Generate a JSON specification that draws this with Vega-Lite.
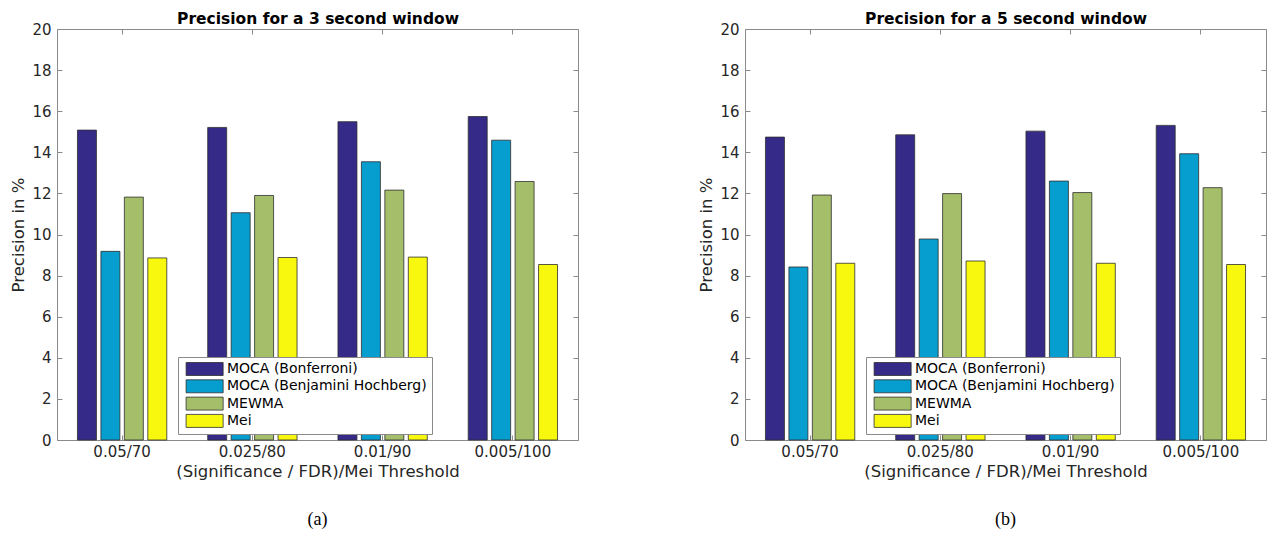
{
  "$schema": "https://vega.github.io/schema/vega-lite/v6.json",
  "background": "white",
  "padding": {"left": 10, "top": 11, "right": 0, "bottom": 0},
  "spacing": 119,
  "config": {
    "font": "DejaVu Sans",
    "view": {"stroke": null},
    "axis": {
      "domainColor": "#8a8a8a",
      "tickColor": "#8a8a8a",
      "grid": false,
      "labelColor": "#262626",
      "titleColor": "#262626",
      "labelFont": "DejaVu Sans",
      "titleFont": "DejaVu Sans",
      "labelFontSize": 15,
      "titleFontSize": 16.5,
      "titleFontWeight": "normal",
      "tickSize": -5
    },
    "legend": {
      "orient": "none",
      "legendX": 121,
      "legendY": 328,
      "fillColor": "white",
      "strokeColor": "#8a8a8a",
      "padding": 5,
      "labelFont": "DejaVu Sans",
      "labelFontSize": 14,
      "labelColor": "black",
      "labelLimit": 400,
      "labelOffset": 30,
      "rowPadding": -0.7,
      "symbolType": "M-0.6,-1H5.1V1H-0.6Z",
      "symbolSize": 169,
      "symbolStrokeColor": "#2e2e2e",
      "symbolStrokeWidth": 0.8,
      "symbolOpacity": 1,
      "title": null
    },
    "title": {"font": "Liberation Serif", "fontSize": 18, "fontWeight": "normal", "color": "black", "orient": "bottom", "offset": 31}
  },
  "resolve": {"scale": {"color": "independent"}},
  "datasets": {
    "d": [
      {"panel": "a", "threshold": "0.05/70", "method": "MOCA (Bonferroni)", "value": 15.08},
      {"panel": "a", "threshold": "0.05/70", "method": "MOCA (Benjamini Hochberg)", "value": 9.18},
      {"panel": "a", "threshold": "0.05/70", "method": "MEWMA", "value": 11.82},
      {"panel": "a", "threshold": "0.05/70", "method": "Mei", "value": 8.86},
      {"panel": "a", "threshold": "0.025/80", "method": "MOCA (Bonferroni)", "value": 15.21},
      {"panel": "a", "threshold": "0.025/80", "method": "MOCA (Benjamini Hochberg)", "value": 11.06},
      {"panel": "a", "threshold": "0.025/80", "method": "MEWMA", "value": 11.9},
      {"panel": "a", "threshold": "0.025/80", "method": "Mei", "value": 8.88},
      {"panel": "a", "threshold": "0.01/90", "method": "MOCA (Bonferroni)", "value": 15.49},
      {"panel": "a", "threshold": "0.01/90", "method": "MOCA (Benjamini Hochberg)", "value": 13.54},
      {"panel": "a", "threshold": "0.01/90", "method": "MEWMA", "value": 12.16},
      {"panel": "a", "threshold": "0.01/90", "method": "Mei", "value": 8.9},
      {"panel": "a", "threshold": "0.005/100", "method": "MOCA (Bonferroni)", "value": 15.74},
      {"panel": "a", "threshold": "0.005/100", "method": "MOCA (Benjamini Hochberg)", "value": 14.59},
      {"panel": "a", "threshold": "0.005/100", "method": "MEWMA", "value": 12.58},
      {"panel": "a", "threshold": "0.005/100", "method": "Mei", "value": 8.54},
      {"panel": "b", "threshold": "0.05/70", "method": "MOCA (Bonferroni)", "value": 14.74},
      {"panel": "b", "threshold": "0.05/70", "method": "MOCA (Benjamini Hochberg)", "value": 8.42},
      {"panel": "b", "threshold": "0.05/70", "method": "MEWMA", "value": 11.92},
      {"panel": "b", "threshold": "0.05/70", "method": "Mei", "value": 8.6},
      {"panel": "b", "threshold": "0.025/80", "method": "MOCA (Bonferroni)", "value": 14.85},
      {"panel": "b", "threshold": "0.025/80", "method": "MOCA (Benjamini Hochberg)", "value": 9.78},
      {"panel": "b", "threshold": "0.025/80", "method": "MEWMA", "value": 11.99},
      {"panel": "b", "threshold": "0.025/80", "method": "Mei", "value": 8.71},
      {"panel": "b", "threshold": "0.01/90", "method": "MOCA (Bonferroni)", "value": 15.03},
      {"panel": "b", "threshold": "0.01/90", "method": "MOCA (Benjamini Hochberg)", "value": 12.6},
      {"panel": "b", "threshold": "0.01/90", "method": "MEWMA", "value": 12.04},
      {"panel": "b", "threshold": "0.01/90", "method": "Mei", "value": 8.6},
      {"panel": "b", "threshold": "0.005/100", "method": "MOCA (Bonferroni)", "value": 15.31},
      {"panel": "b", "threshold": "0.005/100", "method": "MOCA (Benjamini Hochberg)", "value": 13.93},
      {"panel": "b", "threshold": "0.005/100", "method": "MEWMA", "value": 12.28},
      {"panel": "b", "threshold": "0.005/100", "method": "Mei", "value": 8.54}
    ]
  },
  "hconcat": [
    {
      "width": 521,
      "height": 411,
      "title": {"text": "(a)"},
      "data": {"name": "d"},
      "transform": [{"filter": "datum.panel == 'a'"}],
      "resolve": {"axis": {"x": "independent", "y": "independent"}},
      "layer": [
        {
          "mark": {"type": "bar", "stroke": "#2e2e2e", "strokeWidth": 0.8},
          "encoding": {
            "x": {"field": "threshold", "type": "nominal", "sort": ["0.05/70", "0.025/80", "0.01/90", "0.005/100"], "scale": {"paddingInner": 0.28, "paddingOuter": 0.14}, "axis": {"orient": "bottom", "labelAngle": 0, "title": "(Significance / FDR)/Mei Threshold", "labelPadding": 9, "titlePadding": 4}},
            "xOffset": {"field": "method", "sort": ["MOCA (Bonferroni)", "MOCA (Benjamini Hochberg)", "MEWMA", "Mei"], "scale": {"paddingInner": 0.19, "paddingOuter": 0.095}},
            "y": {"field": "value", "type": "quantitative", "scale": {"domain": [0, 20], "nice": false}, "axis": {"orient": "left", "values": [0, 2, 4, 6, 8, 10, 12, 14, 16, 18, 20], "title": "Precision in %", "labelPadding": 11, "titlePadding": 5}},
            "color": {"field": "method", "type": "nominal", "scale": {"domain": ["MOCA (Bonferroni)", "MOCA (Benjamini Hochberg)", "MEWMA", "Mei"], "range": ["#352a87", "#069dcf", "#a5be69", "#f8f80e"]}}
          }
        },
        {
          "mark": {"type": "bar", "opacity": 0},
          "encoding": {
            "x": {"field": "threshold", "type": "nominal", "sort": ["0.05/70", "0.025/80", "0.01/90", "0.005/100"], "axis": {"orient": "top", "labels": false, "title": "Precision for a 3 second window", "titleFontWeight": "bold", "titleFontSize": 15.5, "titleColor": "black", "titlePadding": 2}},
            "xOffset": {"field": "method", "sort": ["MOCA (Bonferroni)", "MOCA (Benjamini Hochberg)", "MEWMA", "Mei"]},
            "y": {"field": "value", "type": "quantitative", "axis": {"orient": "right", "labels": false, "title": null, "values": [0, 2, 4, 6, 8, 10, 12, 14, 16, 18, 20]}}
          }
        }
      ]
    },
    {
      "width": 521,
      "height": 411,
      "title": {"text": "(b)"},
      "data": {"name": "d"},
      "transform": [{"filter": "datum.panel == 'b'"}],
      "resolve": {"axis": {"x": "independent", "y": "independent"}},
      "layer": [
        {
          "mark": {"type": "bar", "stroke": "#2e2e2e", "strokeWidth": 0.8},
          "encoding": {
            "x": {"field": "threshold", "type": "nominal", "sort": ["0.05/70", "0.025/80", "0.01/90", "0.005/100"], "scale": {"paddingInner": 0.28, "paddingOuter": 0.14}, "axis": {"orient": "bottom", "labelAngle": 0, "title": "(Significance / FDR)/Mei Threshold", "labelPadding": 9, "titlePadding": 4}},
            "xOffset": {"field": "method", "sort": ["MOCA (Bonferroni)", "MOCA (Benjamini Hochberg)", "MEWMA", "Mei"], "scale": {"paddingInner": 0.19, "paddingOuter": 0.095}},
            "y": {"field": "value", "type": "quantitative", "scale": {"domain": [0, 20], "nice": false}, "axis": {"orient": "left", "values": [0, 2, 4, 6, 8, 10, 12, 14, 16, 18, 20], "title": "Precision in %", "labelPadding": 11, "titlePadding": 5}},
            "color": {"field": "method", "type": "nominal", "scale": {"domain": ["MOCA (Bonferroni)", "MOCA (Benjamini Hochberg)", "MEWMA", "Mei"], "range": ["#352a87", "#069dcf", "#a5be69", "#f8f80e"]}}
          }
        },
        {
          "mark": {"type": "bar", "opacity": 0},
          "encoding": {
            "x": {"field": "threshold", "type": "nominal", "sort": ["0.05/70", "0.025/80", "0.01/90", "0.005/100"], "axis": {"orient": "top", "labels": false, "title": "Precision for a 5 second window", "titleFontWeight": "bold", "titleFontSize": 15.5, "titleColor": "black", "titlePadding": 2}},
            "xOffset": {"field": "method", "sort": ["MOCA (Bonferroni)", "MOCA (Benjamini Hochberg)", "MEWMA", "Mei"]},
            "y": {"field": "value", "type": "quantitative", "axis": {"orient": "right", "labels": false, "title": null, "values": [0, 2, 4, 6, 8, 10, 12, 14, 16, 18, 20]}}
          }
        }
      ]
    }
  ]
}
